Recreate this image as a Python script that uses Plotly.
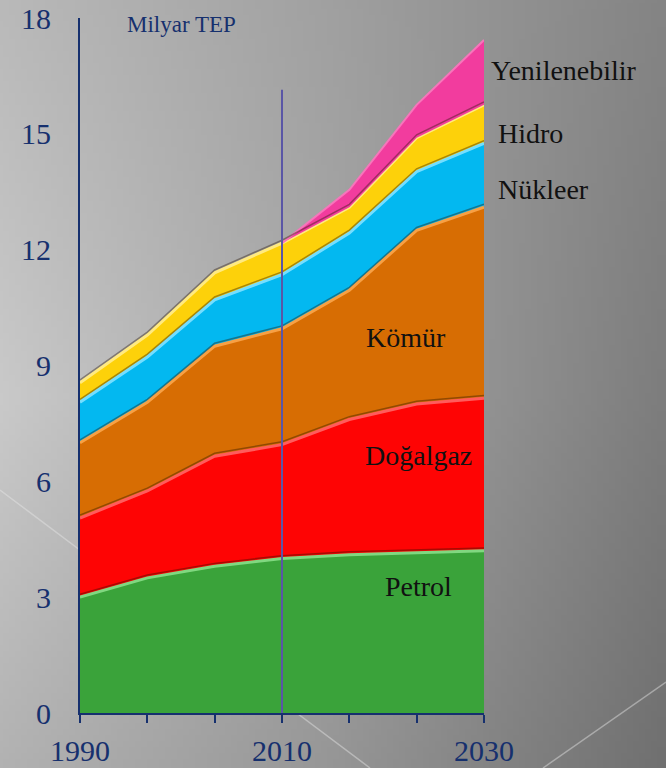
import base64
import struct
import zlib

import plotly.graph_objects as go

# ---------------- data ----------------
years = [1990, 1996.67, 2003.33, 2010, 2016.67, 2023.33, 2030]
petrol = [3.0, 3.5, 3.8, 4.0, 4.1, 4.15, 4.2]
dogalgaz = [2.05, 2.25, 2.85, 2.95, 3.5, 3.85, 3.95]
komur = [1.95, 2.3, 2.85, 3.0, 3.35, 4.5, 4.95]
nukleer = [1.05, 1.17, 1.2, 1.4, 1.48, 1.52, 1.65]
hidro = [0.5, 0.57, 0.7, 0.82, 0.67, 0.88, 1.0]
yenilenebilir = [0, 0, 0, 0, 0.45, 0.85, 1.68]

series_names = ["Petrol", "Doğalgaz", "Kömür", "Nükleer", "Hidro", "Yenilenebilir"]
series_values = [petrol, dogalgaz, komur, nukleer, hidro, yenilenebilir]
fill_colors = ["#3aa33a", "#fe0404", "#d76d03", "#03b8f0", "#fdd10a", "#f23c9e"]
edge_colors = ["#80d880", "#ff5c5c", "#f7a044", "#74deff", "#ffea80", "#f775bb"]

y_ticks = [0, 3, 6, 9, 12, 15, 18]
x_tickvals = years
x_ticktext = ["1990", "", "", "2010", "", "", "2030"]
unit_label = "Milyar TEP"
marker_year = 2010
marker_top = 16.14

W, H = 666, 768
ML, MR, MT, MB = 80, 182, 18, 55
PW, PH = W - ML - MR, H - MT - MB

NAVY = "#16306e"
SERIF = "Liberation Serif, Times New Roman, serif"


# ---------------- gradient background (decorative) ----------------
def make_png(w, h, pixel):
    raw = bytearray()
    for j in range(h):
        raw.append(0)
        for i in range(w):
            raw.append(pixel(i, j))

    def chunk(tag, data):
        c = struct.pack(">I", len(data)) + tag + data
        return c + struct.pack(">I", zlib.crc32(tag + data) & 0xFFFFFFFF)

    png = b"\x89PNG\r\n\x1a\n"
    png += chunk(b"IHDR", struct.pack(">IIBBBBB", w, h, 8, 0, 0, 0, 0))
    png += chunk(b"IDAT", zlib.compress(bytes(raw), 9))
    png += chunk(b"IEND", b"")
    return "data:image/png;base64," + base64.b64encode(png).decode()


gx = [0, 333, 666]
gy = [0, 400, 768]
gv = [[185, 201, 178], [160, 165, 150], [132, 125, 112]]
GW, GH = 111, 128


def grad(i, j):
    x = i / (GW - 1) * 666
    y = j / (GH - 1) * 768
    xi = 0 if x <= 333 else 1
    yi = 0 if y <= 400 else 1
    tx = (x - gx[xi]) / (gx[xi + 1] - gx[xi])
    ty = (y - gy[yi]) / (gy[yi + 1] - gy[yi])
    v00 = gv[xi][yi]
    v10 = gv[xi + 1][yi]
    v01 = gv[xi][yi + 1]
    v11 = gv[xi + 1][yi + 1]
    v = (v00 * (1 - tx) * (1 - ty) + v10 * tx * (1 - ty)
         + v01 * (1 - tx) * ty + v11 * tx * ty)
    return max(0, min(255, int(round(v))))


bg_uri = make_png(GW, GH, grad)

# ---------------- figure ----------------
fig = go.Figure()

# cumulative tops
cum = []
run = [0.0] * len(years)
for vals in series_values:
    run = [a + b for a, b in zip(run, vals)]
    cum.append(run)

# first five series stacked
for k in range(5):
    fig.add_trace(go.Scatter(
        x=years, y=series_values[k], name=series_names[k], mode="lines",
        stackgroup="one", fillcolor=fill_colors[k],
        line=dict(color=edge_colors[k], width=3),
        hoverinfo="x+y+name",
    ))

# renewables: only where it exists (from the last zero before it grows)
i0 = max(0, next(i for i, v in enumerate(yenilenebilir) if v > 0) - 1)
fig.add_trace(go.Scatter(
    x=years[i0:], y=cum[4][i0:], mode="lines",
    line=dict(width=0, color="rgba(0,0,0,0)"), hoverinfo="skip", showlegend=False))
fig.add_trace(go.Scatter(
    x=years[i0:], y=cum[5][i0:], name=series_names[5], mode="lines",
    fill="tonexty", fillcolor=fill_colors[5],
    line=dict(color=edge_colors[5], width=2), hoverinfo="x+name"))

# subtle dark shadow just above each boundary (bevel look)
for k in range(5):
    fig.add_trace(go.Scatter(
        x=years, y=[v + 0.075 for v in cum[k]], mode="lines",
        line=dict(color="rgba(40,20,0,0.4)", width=1.5),
        hoverinfo="skip", showlegend=False))


def px2paper(px, py):
    return (px - ML) / PW, (H - MB - py) / PH


shapes = []
# decorative slide lines
for (a, b) in [((0, 490), (370, 768)), ((543, 768), (666, 682))]:
    x0, y0 = px2paper(*a)
    x1, y1 = px2paper(*b)
    shapes.append(dict(type="line", xref="paper", yref="paper",
                       x0=x0, y0=y0, x1=x1, y1=y1, layer="below",
                       line=dict(color="rgba(230,230,230,0.45)", width=1.5)))
# 2010 marker line
shapes.append(dict(type="line", xref="x", yref="y",
                   x0=marker_year, x1=marker_year, y0=0, y1=marker_top,
                   line=dict(color="#5a56a6", width=2)))

annotations = []
ux, uy = px2paper(181, 25)
annotations.append(dict(text=unit_label, x=ux, y=uy, xref="paper", yref="paper",
                        xanchor="center", yanchor="middle", showarrow=False,
                        font=dict(family=SERIF, size=23, color=NAVY)))

# series labels: pixel positions in the picture (anchor x, centre y)
label_pos = {
    "Yenilenebilir": (489, 70, "left"),
    "Hidro": (496, 133, "left"),
    "Nükleer": (496, 189, "left"),
    "Kömür": (406, 337, "center"),
    "Doğalgaz": (418, 455, "center"),
    "Petrol": (418, 586, "center"),
}
for name in series_names:
    lx, ly, anc = label_pos[name]
    px_, py_ = px2paper(lx, ly)
    annotations.append(dict(text=name, x=px_, y=py_, xref="paper", yref="paper",
                            xanchor=anc, yanchor="middle", showarrow=False,
                            font=dict(family=SERIF, size=28, color="#111111")))

fig.update_layout(
    width=W, height=H,
    margin=dict(l=ML, r=MR, t=MT, b=MB, pad=0, autoexpand=False),
    paper_bgcolor="#a0a0a0",
    plot_bgcolor="rgba(0,0,0,0)",
    showlegend=False,
    shapes=shapes,
    annotations=annotations,
    images=[dict(source=bg_uri, xref="paper", yref="paper",
                 x=-ML / PW, y=1 + MT / PH, sizex=W / PW, sizey=H / PH,
                 xanchor="left", yanchor="top", sizing="stretch",
                 layer="below")],
    xaxis=dict(range=[1990, 2030], showgrid=False, zeroline=False,
               automargin=False,
               showline=True, linecolor=NAVY, linewidth=2,
               tickmode="array", tickvals=x_tickvals, ticktext=x_ticktext,
               ticks="outside", ticklen=8, tickwidth=2, tickcolor=NAVY,
               ticklabelstandoff=2,
               tickfont=dict(family=SERIF, size=30, color=NAVY)),
    yaxis=dict(range=[0, 18], showgrid=False, zeroline=False,
               automargin=False,
               showline=True, linecolor=NAVY, linewidth=2,
               tickmode="array", tickvals=y_ticks,
               ticks="", ticklabelstandoff=21,
               tickfont=dict(family=SERIF, size=30, color=NAVY)),
)

fig.write_html("out.html",
               config={"displayModeBar": False},
               post_script="document.body.style.margin='0';"
                           "document.body.style.overflow='hidden';")
